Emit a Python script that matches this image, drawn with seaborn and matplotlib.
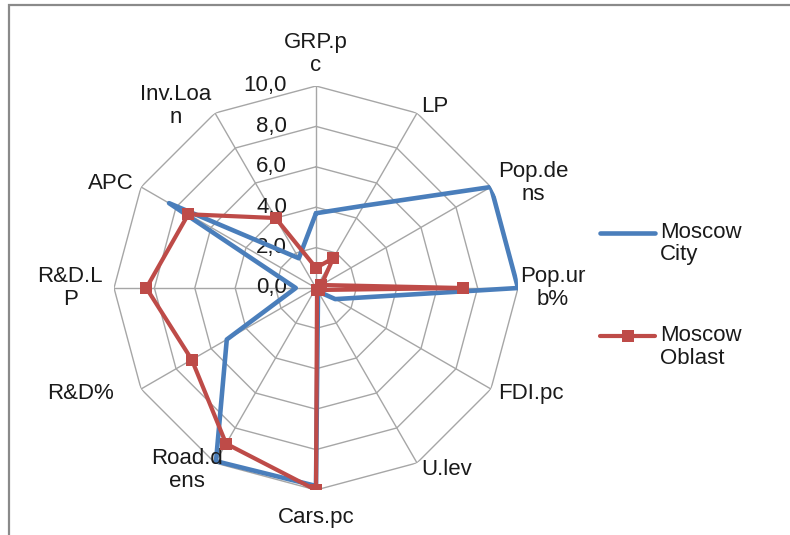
import numpy as np
import pandas as pd
import matplotlib
matplotlib.use("Agg")
import matplotlib.pyplot as plt
import matplotlib.transforms as mtransforms
from matplotlib.patches import Rectangle
from matplotlib.legend_handler import HandlerLine2D
import seaborn as sns

# Indicators, clockwise from the top
categories = ["GRP.p\nc", "LP", "Pop.de\nns", "Pop.ur\nb%", "FDI.pc", "U.lev",
              "Cars.pc", "Road.d\nens", "R&D%", "R&D.L\nP", "APC", "Inv.Loa\nn"]
moscow_city = [3.7, 4.7, 10.0, 10.0, 1.1, 0.2, 9.8, 9.9, 5.1, 1.0, 8.4, 1.7]
moscow_oblast = [1.0, 1.7, 0.3, 7.3, 0.2, 0.1, 10.0, 8.9, 7.1, 8.4, 7.3, 4.0]
series_names = ["Moscow\nCity", "Moscow\nOblast"]
ring_values = [0, 2, 4, 6, 8, 10]
ring_labels = ["0,0", "2,0", "4,0", "6,0", "8,0", "10,0"]

sns.set_theme(style="white")
plt.rcParams["font.family"] = ["Liberation Sans", "DejaVu Sans"]

W, H, DPI = 790, 535, 100
fig = plt.figure(figsize=(W / DPI, H / DPI), dpi=DPI)
cx, cy, R = 316, H - 288, 202
ax = fig.add_axes([(cx - R) / W, (cy - R) / H, 2 * R / W, 2 * R / H], projection="polar")
ax.set_theta_zero_location("N")
ax.set_theta_direction(-1)
ax.set_ylim(0, 10)
ax.grid(False)
ax.spines["polar"].set_visible(False)
ax.patch.set_alpha(0)

n = len(categories)
theta = np.linspace(0, 2 * np.pi, n, endpoint=False)
theta_closed = np.append(theta, 2 * np.pi)

# polygon gridlines and spokes
grid_kw = dict(color="#a6a6a6", lw=1.0, zorder=1)
for rv in ring_values[1:]:
    ax.plot(theta_closed, [rv] * (n + 1), **grid_kw)
for t in theta:
    ax.plot([t, t], [0, 10], **grid_kw)

def closed_frame(values, name):
    v = list(values) + [values[0]]
    return pd.DataFrame({"theta": theta_closed, "value": v, "series": name})

df_city = closed_frame(moscow_city, series_names[0])
df_obl = closed_frame(moscow_oblast, series_names[1])

blue = "#4a7ebb"
red = "#be4b48"
sns.lineplot(data=df_city, x="theta", y="value", sort=False, estimator=None,
             color=blue, lw=3.3, ax=ax, label=series_names[0], zorder=3)
sns.lineplot(data=df_obl, x="theta", y="value", sort=False, estimator=None,
             color=red, lw=3.0, marker="s", markersize=8, markeredgewidth=0,
             ax=ax, label=series_names[1], zorder=4)
ax.set_xlabel("")
ax.set_ylabel("")
handles, labels = ax.get_legend_handles_labels()
ax.get_legend().remove()
ax.set_xticks([])
ax.set_yticks([])
ax.set_ylim(0, 10)

fs = 16
text_color = "#1a1a1a"
# radial value labels to the left of the top spoke
tick_tr = mtransforms.offset_copy(ax.transData, fig=fig, x=-29, y=0, units="dots")
for rv, lab in zip(ring_values, ring_labels):
    ax.text(0, rv, lab, transform=tick_tr, ha="right", va="center",
            fontsize=fs, color=text_color, zorder=2)

# category labels just outside the outer ring
pad = 8
nudge = {"GRP.p\nc": (0, 2), "Pop.ur\nb%": (-6, 0), "Cars.pc": (0, -9),
         "Road.d\nens": (12, 0), "R&D%": (-20, 0), "R&D.L\nP": (-3, 0)}
for t, lab in zip(theta, categories):
    s, c = np.sin(t), np.cos(t)
    dx, dy = nudge.get(lab, (0, 0))
    tr = mtransforms.offset_copy(ax.transData, fig=fig, x=pad * s + dx,
                                 y=pad * c + dy, units="dots")
    ha = "left" if s > 0.01 else ("right" if s < -0.01 else "center")
    va = "bottom" if c > 0.99 else ("top" if c < -0.99 else "center")
    ax.text(t, 10, lab, transform=tr, ha=ha, va=va, fontsize=fs,
            color=text_color, linespacing=1.1, multialignment="center",
            clip_on=False)


class FirstLineHandler(HandlerLine2D):
    """Legend line handle aligned with the first line of a two-line label."""
    def create_artists(self, legend, orig_handle, xdescent, ydescent,
                       width, height, fontsize, trans):
        artists = super().create_artists(legend, orig_handle, xdescent, ydescent,
                                         width, height, fontsize, trans)
        for a in artists:
            a.set_ydata(np.asarray(a.get_ydata()) + 0.5 * fontsize)
        return artists


leg = fig.legend(handles, labels, loc="upper left",
                 bbox_to_anchor=(591 / W, 1 - 213 / H), frameon=False,
                 fontsize=fs, handlelength=2.5, handletextpad=0.22,
                 labelspacing=2.68, borderaxespad=0,
                 handler_map={h: FirstLineHandler() for h in handles})
for txt in leg.get_texts():
    txt.set_linespacing(1.1)
    txt.set_color(text_color)

# chart area border (top and left edges visible)
fig.patches.append(Rectangle((9 / W, -0.2), 1.5, 1.2 - 5 / H, transform=fig.transFigure,
                             fill=False, edgecolor="#8a8a8a", lw=1.6))

fig.savefig("out.png", dpi=DPI)
